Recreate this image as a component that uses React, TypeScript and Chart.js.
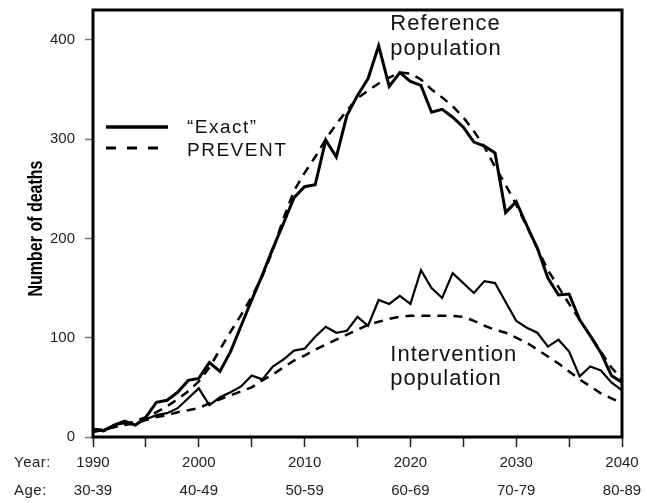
import React, { useEffect, useRef } from "react";
import { Chart, registerables } from "chart.js";

Chart.register(...registerables);

const FONT = "'Liberation Sans', Arial, Helvetica, sans-serif";

const startYear = 1990;
const endYear = 2040;
const tickYears = [1990, 2000, 2010, 2020, 2030, 2040];
const tickAges = ["30-39", "40-49", "50-59", "60-69", "70-79", "80-89"];
const yTicks = [0, 100, 200, 300, 400];
const yTitle = "Number of deaths";

const referenceExact = [
  8, 6, 12, 16, 12, 20, 35, 37, 45, 57, 59, 75, 66, 86, 112, 138, 163, 190, 215, 241,
  252, 254, 299, 282, 324, 344, 361, 394, 353, 367, 358, 354, 327, 330, 322, 312, 297, 293, 286, 226,
  237, 213, 190, 160, 143, 144, 118, 102, 85, 62, 55,
];
const referencePrevent = [
  5, 7, 10, 13, 16, 20, 25, 31, 38, 46, 56, 70, 88, 106, 123, 141, 162, 188, 220, 248,
  266, 282, 300, 315, 329, 341, 349, 356, 362, 367, 366, 360, 350, 342, 333, 322, 308, 292, 272, 254,
  234, 212, 190, 168, 151, 134, 118, 102, 86, 70, 58,
];
const interventionExact = [
  8, 7, 12, 14, 12, 18, 22, 24, 29, 39, 49, 32, 40, 45, 51, 62, 58, 71, 78, 87,
  89, 101, 111, 105, 107, 121, 112, 138, 134, 142, 134, 168, 150, 140, 165, 155, 145, 157, 155, 136,
  117, 110, 105, 91, 98, 86, 61, 71, 67, 55, 47,
];
const interventionPrevent = [
  6, 8, 10, 12, 14, 17, 20, 22, 25, 27, 29, 34, 38, 42, 46, 50, 57, 63, 70, 77,
  82, 88, 93, 98, 103, 108, 113, 116, 119, 121, 122, 122, 122, 122, 122, 121, 117, 112, 108, 105,
  100, 95, 88, 81, 74, 66, 58, 51, 44, 39, 34,
];

const legendLabels = ["\u201CExact\u201D", "PREVENT"];
const annotationRef = ["Reference", "population"];
const annotationInt = ["Intervention", "population"];

const toPoints = (vals: number[]) => vals.map((v, i) => ({ x: startYear + i, y: v }));

const overlay = {
  id: "overlay",
  afterDraw(chart: any) {
    const { ctx, chartArea: a, scales } = chart;
    const xs = scales.x;
    const ys = scales.y;
    ctx.save();
    // plot frame
    ctx.strokeStyle = "#000";
    ctx.lineWidth = 3;
    ctx.setLineDash([]);
    ctx.strokeRect(a.left, a.top, a.right - a.left, a.bottom - a.top);

    // legend
    const lx = a.left + 13;
    ctx.lineWidth = 3.5;
    ctx.beginPath();
    ctx.moveTo(lx, 127);
    ctx.lineTo(lx + 62, 127);
    ctx.stroke();
    ctx.lineWidth = 3;
    ctx.setLineDash([10, 11]);
    ctx.beginPath();
    ctx.moveTo(lx, 148);
    ctx.lineTo(lx + 57, 148);
    ctx.stroke();
    ctx.setLineDash([]);
    ctx.fillStyle = "#111";
    ctx.textAlign = "left";
    ctx.textBaseline = "middle";
    ctx.font = `19px ${FONT}`;
    (ctx as any).letterSpacing = "1.5px";
    ctx.fillText(legendLabels[0], lx + 81, 128);
    ctx.fillText(legendLabels[1], lx + 81, 151);

    // annotations
    ctx.font = `22px ${FONT}`;
    (ctx as any).letterSpacing = "1px";
    const ax = xs.getPixelForValue(2018.1);
    ctx.fillText(annotationRef[0], ax, ys.getPixelForValue(416));
    ctx.fillText(annotationRef[1], ax, ys.getPixelForValue(391));
    ctx.fillText(annotationInt[0], ax, ys.getPixelForValue(83));
    ctx.fillText(annotationInt[1], ax, ys.getPixelForValue(58));

    // row labels
    ctx.font = `15px ${FONT}`;
    (ctx as any).letterSpacing = "0.5px";
    ctx.fillStyle = "#222";
    ctx.fillText("Year:", 14, 463);
    ctx.fillText("Age:", 14, 491);

    // y-axis title (bold, condensed)
    (ctx as any).letterSpacing = "0px";
    ctx.fillStyle = "#000";
    ctx.font = `bold 20px ${FONT}`;
    ctx.textAlign = "center";
    ctx.translate(36, (a.top + a.bottom) / 2 + 5);
    ctx.rotate(-Math.PI / 2);
    ctx.scale(0.8, 1);
    ctx.fillText(yTitle, 0, 0);
    ctx.restore();
  },
};

export default function App() {
  const ref = useRef<HTMLCanvasElement | null>(null);
  useEffect(() => {
    if (!ref.current) return;
    const solid = (data: number[], w: number) => ({
      data: toPoints(data),
      borderColor: "#000",
      borderWidth: w,
      pointRadius: 0,
      tension: 0,
      fill: false,
      borderJoinStyle: "miter" as const,
    });
    const dashed = (data: number[], w: number) => ({
      ...solid(data, w),
      borderDash: [9, 7],
      borderCapStyle: "butt" as const,
    });
    const chart = new Chart(ref.current, {
      type: "line",
      data: {
        datasets: [
          { label: "Reference exact", ...solid(referenceExact, 3) },
          { label: "Reference PREVENT", ...dashed(referencePrevent, 2.5) },
          { label: "Intervention exact", ...solid(interventionExact, 2.2) },
          { label: "Intervention PREVENT", ...dashed(interventionPrevent, 2.5) },
        ],
      },
      options: {
        responsive: false,
        animation: false,
        devicePixelRatio: 1,
        layout: { padding: { left: 0, top: 10, right: 25, bottom: 0 } },
        plugins: { legend: { display: false }, tooltip: { enabled: false } },
        scales: {
          x: {
            type: "linear",
            min: startYear,
            max: endYear,
            afterFit: (s: any) => {
              s.height = 66;
              s.paddingLeft = 0;
              s.paddingRight = 0;
              s.paddingTop = 0;
              s.paddingBottom = 0;
            },
            border: { display: false },
            grid: {
              display: true,
              drawOnChartArea: false,
              drawTicks: true,
              tickLength: 10,
              tickColor: "#222",
              tickWidth: 1.5,
            },
            ticks: {
              stepSize: 5,
              autoSkip: false,
              maxRotation: 0,
              minRotation: 0,
              padding: 2,
              color: "#222",
              font: { family: FONT, size: 15, lineHeight: 28 / 15 },
              callback: (v: any) => {
                const i = tickYears.indexOf(Number(v));
                return i >= 0 ? [String(tickYears[i]), tickAges[i]] : "";
              },
            },
          },
          y: {
            min: 0,
            max: 430,
            afterFit: (s: any) => {
              s.width = 93;
              s.paddingTop = 0;
              s.paddingBottom = 0;
              s.paddingLeft = 0;
              s.paddingRight = 0;
            },
            border: { display: false },
            grid: {
              display: true,
              drawOnChartArea: false,
              drawTicks: true,
              tickLength: 8,
              tickColor: "#777",
              tickWidth: 1.5,
            },
            ticks: {
              stepSize: 100,
              includeBounds: false,
              padding: 10,
              color: "#222",
              font: { family: FONT, size: 15 },
              callback: (v: any) => (yTicks.includes(Number(v)) ? String(v) : ""),
            },
          },
        },
      },
      plugins: [overlay],
    });
    return () => chart.destroy();
  }, []);
  return (
    <div style={{ position: "fixed", left: 0, top: 0, width: 647, height: 503, background: "#fff" }}>
      <canvas ref={ref} width={647} height={503} />
    </div>
  );
}
